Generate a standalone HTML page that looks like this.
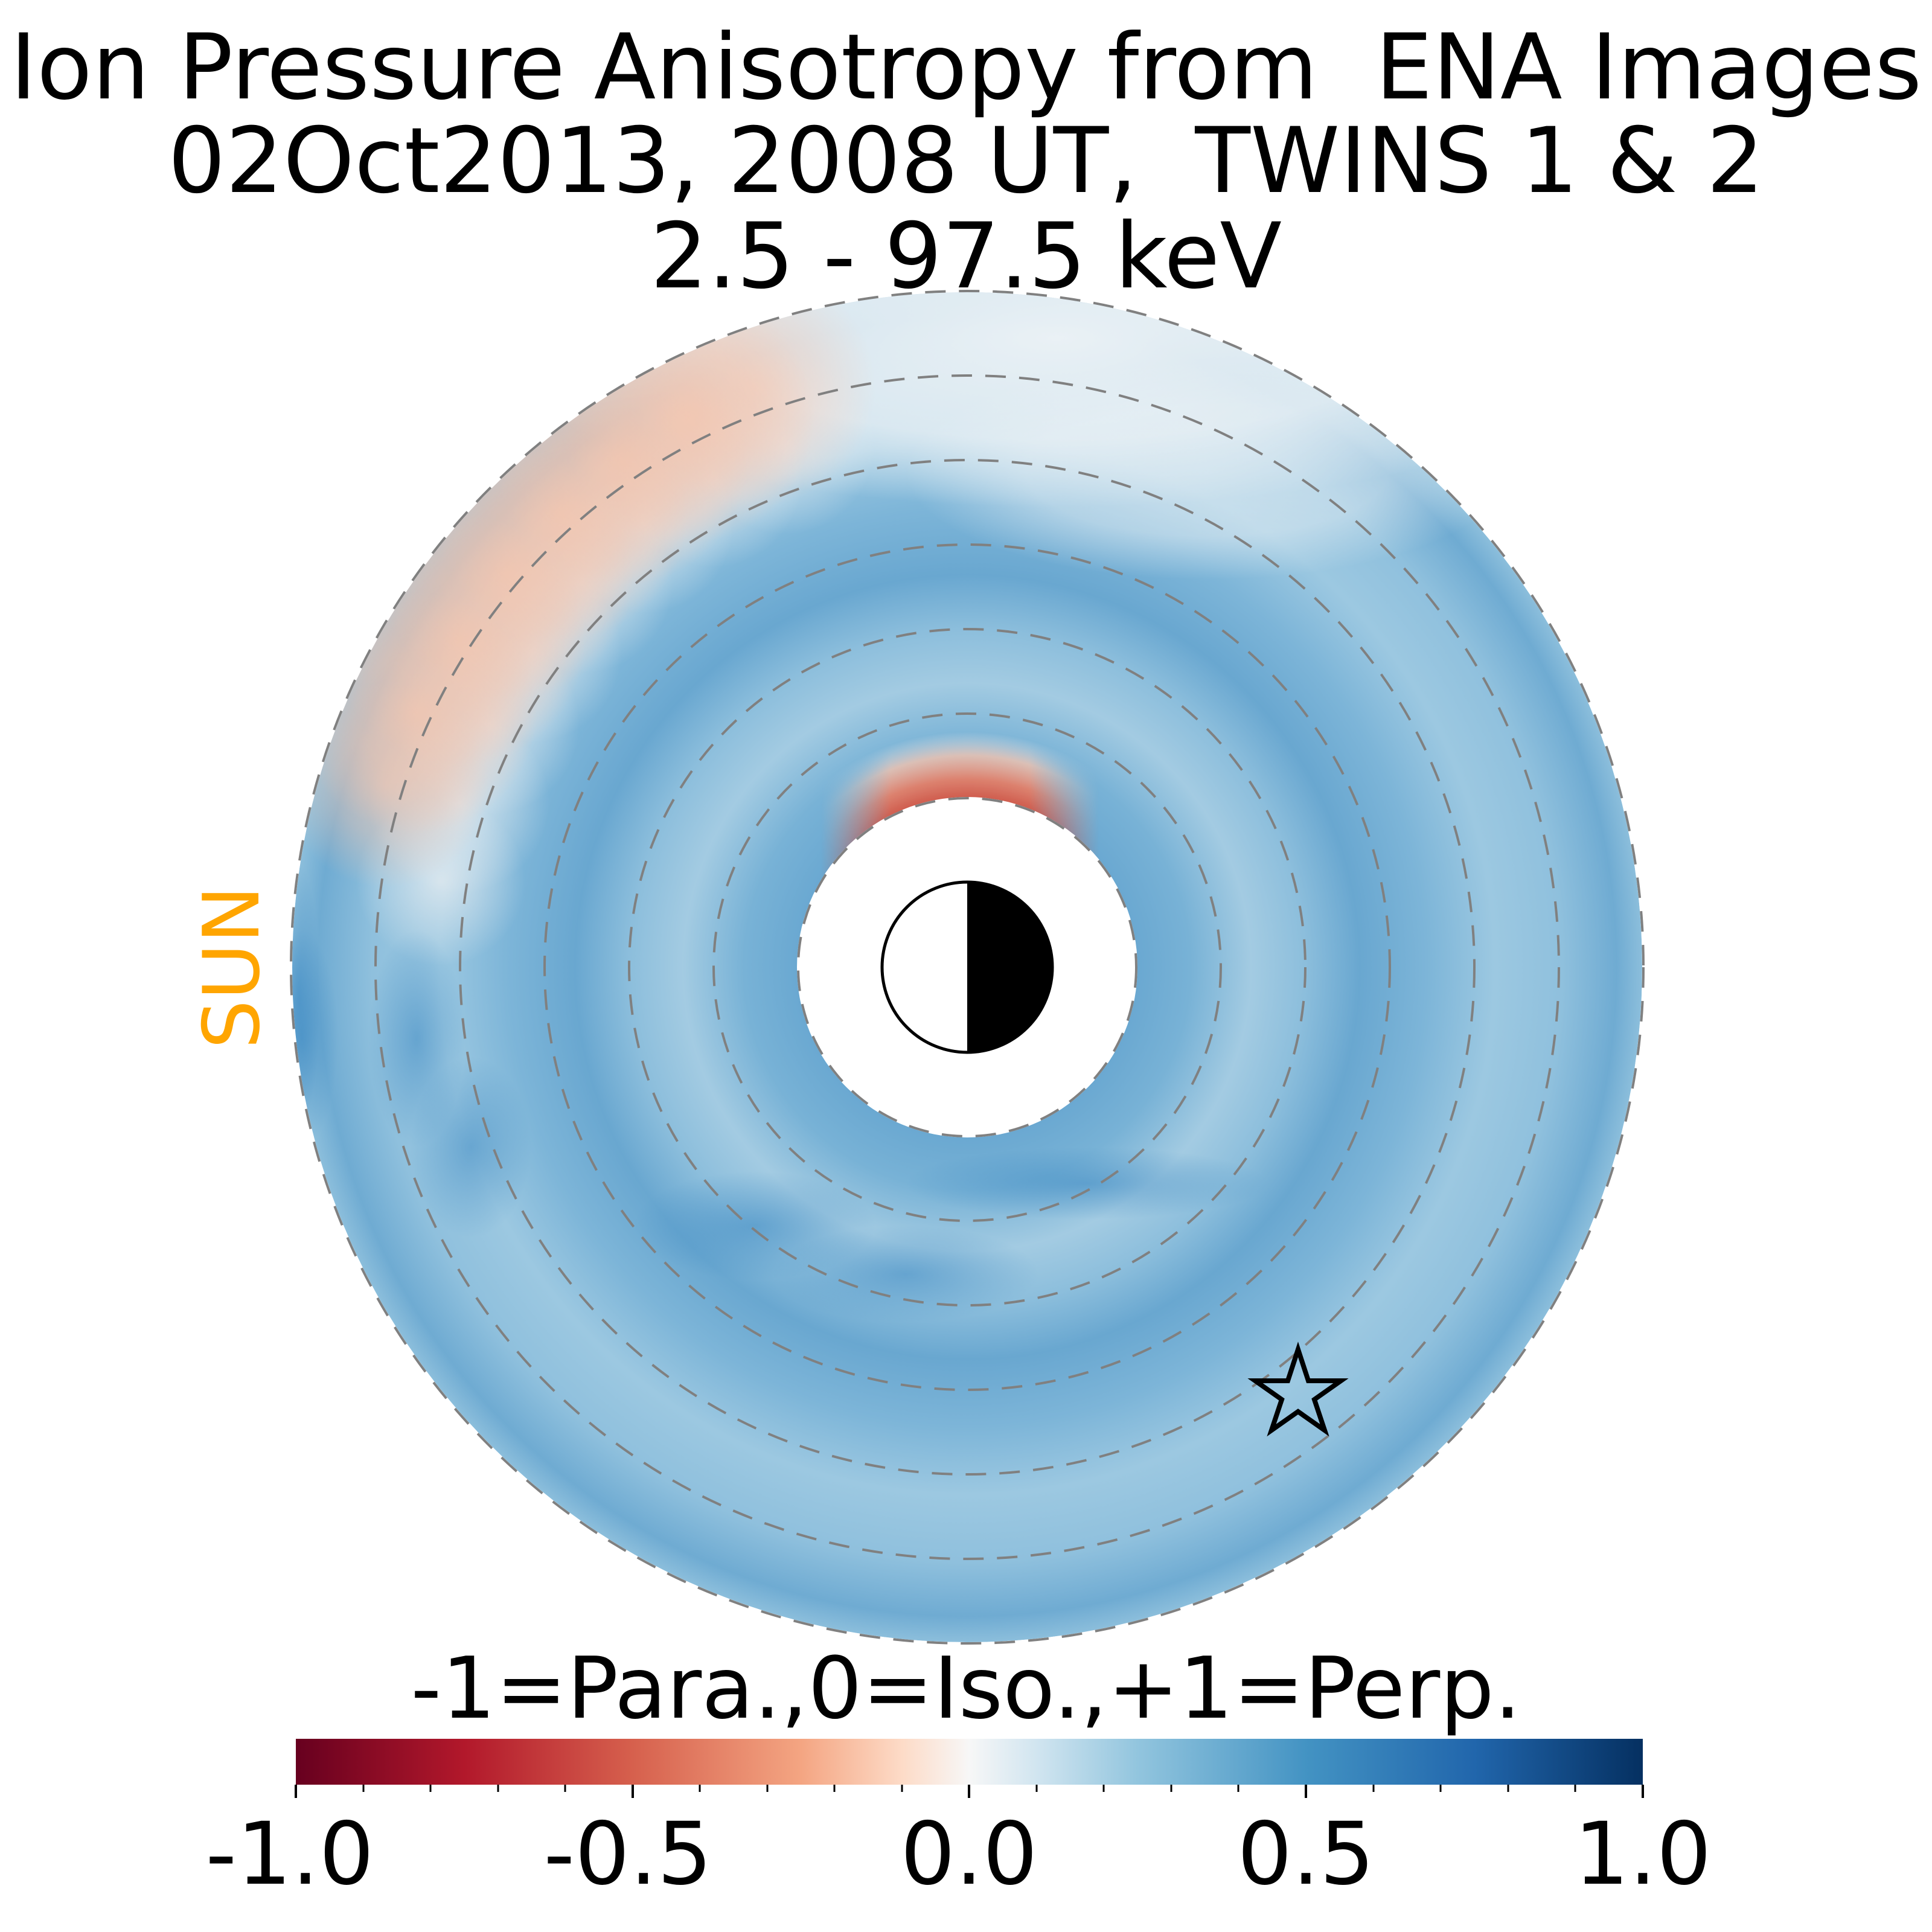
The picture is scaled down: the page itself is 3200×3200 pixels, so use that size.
<!DOCTYPE html>
<html><head><meta charset="utf-8"><style>
html,body{margin:0;padding:0;background:#fff}
svg{display:block}
text{font-family:"DejaVu Sans","Liberation Sans",sans-serif;white-space:pre}
</style></head><body>
<svg width="3200" height="3200" viewBox="0 0 3200 3200" xmlns="http://www.w3.org/2000/svg" xml:space="preserve">
<defs>
<radialGradient id="rg" cx="1602" cy="1602" r="1120" gradientUnits="userSpaceOnUse">
<stop offset="0.25" stop-color="#6aa8d1"/>
<stop offset="0.33" stop-color="#78b2d6"/>
<stop offset="0.42" stop-color="#a3cbe2"/>
<stop offset="0.50" stop-color="#8cbedc"/>
<stop offset="0.58" stop-color="#69a7d0"/>
<stop offset="0.68" stop-color="#7db5d8"/>
<stop offset="0.78" stop-color="#9cc8e1"/>
<stop offset="0.88" stop-color="#8fc0dd"/>
<stop offset="0.96" stop-color="#6fabd2"/>
<stop offset="1" stop-color="#8dbfdc"/>
</radialGradient>
<linearGradient id="cb" x1="0" x2="1" y1="0" y2="0">
<stop offset="0" stop-color="#67001f"/>
<stop offset="0.125" stop-color="#b2182b"/>
<stop offset="0.25" stop-color="#d6604d"/>
<stop offset="0.375" stop-color="#f4a582"/>
<stop offset="0.45" stop-color="#fddbc7"/>
<stop offset="0.5" stop-color="#f7f7f7"/>
<stop offset="0.55" stop-color="#d1e5f0"/>
<stop offset="0.625" stop-color="#92c5de"/>
<stop offset="0.75" stop-color="#4393c3"/>
<stop offset="0.875" stop-color="#2166ac"/>
<stop offset="1" stop-color="#053061"/>
</linearGradient>
<radialGradient id="pk"><stop offset="0" stop-color="#f7c6ae" stop-opacity="0.8"/><stop offset="0.5" stop-color="#f7c6ae" stop-opacity="0.5"/><stop offset="1" stop-color="#f7c6ae" stop-opacity="0"/></radialGradient>
<radialGradient id="wh"><stop offset="0" stop-color="#eef0f2" stop-opacity="0.7"/><stop offset="1" stop-color="#eef0f2" stop-opacity="0"/></radialGradient>
<radialGradient id="lt"><stop offset="0" stop-color="#eaf1f5" stop-opacity="1"/><stop offset="0.6" stop-color="#eaf1f5" stop-opacity="0.8"/><stop offset="1" stop-color="#eaf1f5" stop-opacity="0"/></radialGradient>
<radialGradient id="db"><stop offset="0" stop-color="#3584c0" stop-opacity="0.5"/><stop offset="1" stop-color="#3584c0" stop-opacity="0"/></radialGradient>
<radialGradient id="cr" cx="1602" cy="1602" r="390" gradientUnits="userSpaceOnUse">
<stop offset="0.70" stop-color="#cc5244" stop-opacity="1"/>
<stop offset="0.80" stop-color="#e2806a" stop-opacity="0.95"/>
<stop offset="0.90" stop-color="#f4c3ae" stop-opacity="0.8"/>
<stop offset="1" stop-color="#f4efed" stop-opacity="0"/>
</radialGradient>
<linearGradient id="mh" gradientUnits="userSpaceOnUse" x1="1360" y1="0" x2="1820" y2="0">
<stop offset="0" stop-color="#fff" stop-opacity="0"/>
<stop offset="0.25" stop-color="#fff" stop-opacity="1"/>
<stop offset="0.75" stop-color="#fff" stop-opacity="1"/>
<stop offset="1" stop-color="#fff" stop-opacity="0"/>
</linearGradient>
<mask id="cm" maskUnits="userSpaceOnUse" x="0" y="0" width="3200" height="3200">
<rect x="1300" y="1150" width="600" height="300" fill="url(#mh)"/>
</mask>
<clipPath id="disc"><circle cx="1602" cy="1602" r="1118"/></clipPath>
</defs>
<text x="1600" y="163" font-size="150" text-anchor="middle">Ion Pressure Anisotropy from  ENA Images</text>
<text x="1600" y="318" font-size="150" text-anchor="middle">02Oct2013, 2008 UT,  TWINS 1 &amp; 2</text>
<text x="1600" y="476" font-size="150" text-anchor="middle">2.5 - 97.5 keV</text>
<g clip-path="url(#disc)">
<circle cx="1602" cy="1602" r="1118" fill="url(#rg)"/>
<ellipse cx="1750" cy="560" rx="950" ry="280" fill="url(#lt)"/>
<ellipse cx="2000" cy="780" rx="500" ry="180" fill="url(#lt)" opacity="0.6"/>
<g fill="url(#wh)">
<circle cx="1300" cy="735" r="150"/>
<circle cx="1180" cy="790" r="150"/>
<circle cx="1066" cy="866" r="150"/>
<circle cx="965" cy="965" r="150"/>
<circle cx="880" cy="1080" r="150"/>
<circle cx="810" cy="1200" r="150"/>
<circle cx="760" cy="1330" r="150"/>
<circle cx="730" cy="1460" r="140"/>
</g>
<g fill="url(#pk)">
<circle cx="1250" cy="640" r="200" opacity="0.7"/>
<circle cx="1140" cy="690" r="210"/>
<circle cx="1030" cy="760" r="210"/>
<circle cx="930" cy="850" r="210"/>
<circle cx="840" cy="950" r="210"/>
<circle cx="760" cy="1060" r="210"/>
<circle cx="690" cy="1180" r="200"/>
<circle cx="640" cy="1300" r="170" opacity="0.8"/>
</g>
<g fill="url(#db)">
<ellipse cx="500" cy="1720" rx="60" ry="180"/>
<ellipse cx="495" cy="1650" rx="35" ry="220"/>
<ellipse cx="690" cy="1720" rx="80" ry="180"/>
<ellipse cx="780" cy="1900" rx="100" ry="150"/>
<ellipse cx="1250" cy="2030" rx="200" ry="90"/>
<ellipse cx="1500" cy="2110" rx="220" ry="80"/>
<ellipse cx="1800" cy="1960" rx="300" ry="60"/>
</g>
</g>
<circle cx="1602" cy="1602" r="390" fill="url(#cr)" mask="url(#cm)"/>
<circle cx="1602" cy="1602" r="282" fill="#fff"/>
<g fill="none" stroke="#808080" stroke-width="4" stroke-dasharray="34 22">
<circle cx="1602" cy="1602" r="280"/><circle cx="1602" cy="1602" r="420"/>
<circle cx="1602" cy="1602" r="560"/><circle cx="1602" cy="1602" r="700"/>
<circle cx="1602" cy="1602" r="840"/><circle cx="1602" cy="1602" r="980"/>
<circle cx="1602" cy="1602" r="1120"/>
</g>
<circle cx="1602" cy="1602" r="141" fill="#fff" stroke="#000" stroke-width="5"/>
<path d="M1602 1461 A141 141 0 0 1 1602 1743 Z" fill="#000"/>
<polygon points="2150,2235 2167,2287 2221,2287 2177,2318 2194,2369 2150,2338 2106,2369 2123,2318 2079,2287 2133,2287" fill="none" stroke="#000" stroke-width="8"/>
<text x="0" y="0" font-size="128" fill="#ffa500" text-anchor="middle" transform="translate(428 1602) rotate(-90)">SUN</text>
<text x="1600" y="2845" font-size="141" text-anchor="middle">-1=Para.,0=Iso.,+1=Perp.</text>
<rect x="490" y="2880" width="2231" height="76" fill="url(#cb)"/>
<g stroke="#000" stroke-width="4">
<line x1="490" y1="2956" x2="490" y2="2978"/><line x1="1048" y1="2956" x2="1048" y2="2978"/>
<line x1="1605" y1="2956" x2="1605" y2="2978"/><line x1="2163" y1="2956" x2="2163" y2="2978"/>
<line x1="2721" y1="2956" x2="2721" y2="2978"/>
</g>
<g stroke="#000" stroke-width="3">
<line x1="602" y1="2956" x2="602" y2="2968"/><line x1="713" y1="2956" x2="713" y2="2968"/><line x1="825" y1="2956" x2="825" y2="2968"/><line x1="936" y1="2956" x2="936" y2="2968"/>
<line x1="1159" y1="2956" x2="1159" y2="2968"/><line x1="1271" y1="2956" x2="1271" y2="2968"/><line x1="1382" y1="2956" x2="1382" y2="2968"/><line x1="1494" y1="2956" x2="1494" y2="2968"/>
<line x1="1717" y1="2956" x2="1717" y2="2968"/><line x1="1828" y1="2956" x2="1828" y2="2968"/><line x1="1940" y1="2956" x2="1940" y2="2968"/><line x1="2051" y1="2956" x2="2051" y2="2968"/>
<line x1="2275" y1="2956" x2="2275" y2="2968"/><line x1="2386" y1="2956" x2="2386" y2="2968"/><line x1="2498" y1="2956" x2="2498" y2="2968"/><line x1="2609" y1="2956" x2="2609" y2="2968"/>
</g>
<g font-size="143" text-anchor="middle">
<text x="480" y="3120">-1.0</text><text x="1040" y="3120">-0.5</text>
<text x="1605" y="3120">0.0</text><text x="2163" y="3120">0.5</text><text x="2721" y="3120">1.0</text>
</g>
</svg>
</body></html>
